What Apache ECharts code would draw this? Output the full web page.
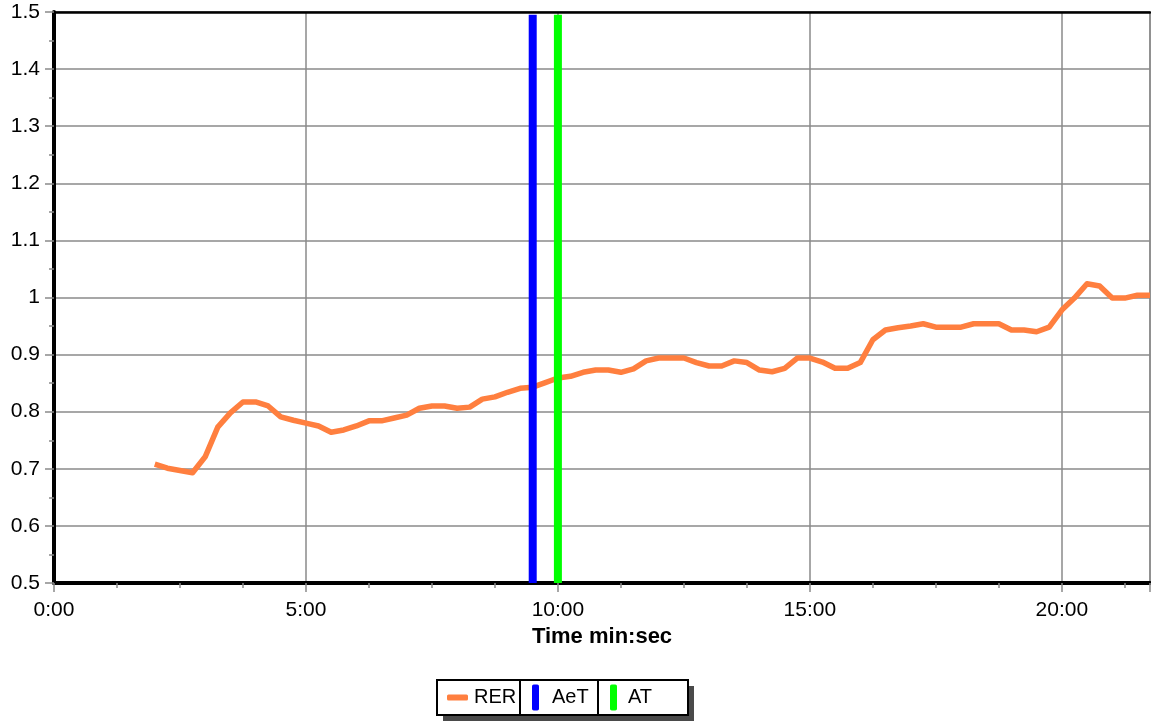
<!DOCTYPE html>
<html>
<head>
<meta charset="utf-8">
<script src="https://cdn.jsdelivr.net/npm/echarts@6/dist/echarts.min.js"></script>
<style>
  html, body { margin: 0; padding: 0; background: #ffffff; }
  #chart { width: 1151px; height: 723px; }
</style>
</head>
<body>
<div id="chart"></div>
<script>
// Respiratory exchange ratio sampled every 15 s (time as m:ss)
const times = [
  '2:00','2:15','2:30','2:45','3:00','3:15','3:30','3:45',
  '4:00','4:15','4:30','4:45','5:00','5:15','5:30','5:45',
  '6:00','6:15','6:30','6:45','7:00','7:15','7:30','7:45',
  '8:00','8:15','8:30','8:45','9:00','9:15','9:30','9:45',
  '10:00','10:15','10:30','10:45','11:00','11:15','11:30','11:45',
  '12:00','12:15','12:30','12:45','13:00','13:15','13:30','13:45',
  '14:00','14:15','14:30','14:45','15:00','15:15','15:30','15:45',
  '16:00','16:15','16:30','16:45','17:00','17:15','17:30','17:45',
  '18:00','18:15','18:30','18:45','19:00','19:15','19:30','19:45',
  '20:00','20:15','20:30','20:45','21:00','21:15','21:30','21:45'
];
const rer = [
  0.708, 0.701, 0.697, 0.693, 0.721, 0.773, 0.798, 0.817,
  0.817, 0.810, 0.791, 0.785, 0.780, 0.775, 0.764, 0.768,
  0.775, 0.784, 0.784, 0.789, 0.794, 0.806, 0.810, 0.810,
  0.806, 0.808, 0.822, 0.826, 0.834, 0.841, 0.843, 0.851,
  0.859, 0.862, 0.869, 0.873, 0.873, 0.869, 0.875, 0.889,
  0.894, 0.894, 0.894, 0.886, 0.880, 0.880, 0.889, 0.886,
  0.873, 0.870, 0.876, 0.894, 0.894, 0.887, 0.876, 0.876,
  0.886, 0.926, 0.943, 0.947, 0.950, 0.954, 0.948, 0.948,
  0.948, 0.954, 0.954, 0.954, 0.943, 0.943, 0.940, 0.948,
  0.978, 0.999, 1.024, 1.020, 0.999, 0.999, 1.004, 1.004
];

// Threshold markers
const aetTime = '9:30';
const atTime = '10:00';

// Axis ranges (time axis in minutes)
const xMin = 0, xMax = 21.75, xStep = 5;
const yMin = 0.5, yMax = 1.5, yStep = 0.1;
const markerTop = 1.495;

function toMinutes(s) {
  const [m, sec] = s.split(':').map(Number);
  return m + sec / 60;
}
function fmtTime(v) {
  const m = Math.floor(v + 1e-9);
  const s = Math.round((v - m) * 60);
  return m + ':' + String(s).padStart(2, '0');
}

const rerData = times.map((t, i) => [toMinutes(t), rer[i]]);
const aetData = [[toMinutes(aetTime), yMin], [toMinutes(aetTime), markerTop]];
const atData = [[toMinutes(atTime), yMin], [toMinutes(atTime), markerTop]];

const FONT = '"Liberation Sans", Arial, sans-serif';
const GRID_GRAY = '#8a8a8a';

const legendBase = {
  orient: 'horizontal',
  top: 684,
  padding: 0,
  itemGap: 0,
  selectedMode: false,
  z: 10,
  textStyle: { fontFamily: FONT, fontSize: 20, color: '#000000', lineHeight: 27 }
};

const chart = echarts.init(document.getElementById('chart'), null, { renderer: 'canvas' });

chart.setOption({
  animation: false,
  backgroundColor: '#ffffff',
  grid: {
    left: 54, right: 1, top: 12, bottom: 140,
    show: true, borderColor: GRID_GRAY, borderWidth: 1.5, backgroundColor: 'transparent'
  },
  // Legend frame: a boxed strip with a solid drop shadow, split into three cells
  graphic: [
    {
      type: 'rect', z: 1, silent: true,
      shape: { x: 443, y: 686, width: 251, height: 35 },
      style: { fill: '#4a4a4a' }
    },
    {
      type: 'rect', z: 2, silent: true,
      shape: { x: 437, y: 680, width: 251, height: 35 },
      style: { fill: '#ffffff', stroke: '#000000', lineWidth: 2 }
    },
    {
      type: 'line', z: 3, silent: true,
      shape: { x1: 520, y1: 680, x2: 520, y2: 715 },
      style: { stroke: '#000000', lineWidth: 2 }
    },
    {
      type: 'line', z: 3, silent: true,
      shape: { x1: 598, y1: 680, x2: 598, y2: 715 },
      style: { stroke: '#000000', lineWidth: 2 }
    }
  ],
  legend: [
    Object.assign({}, legendBase, {
      left: 447,
      data: [{ name: 'RER', icon: 'roundRect' }],
      itemWidth: 21, itemHeight: 6,
      textStyle: Object.assign({}, legendBase.textStyle, { padding: [0, 0, 0, 1] })
    }),
    Object.assign({}, legendBase, {
      left: 532,
      data: [{ name: 'AeT', icon: 'roundRect' }],
      itemWidth: 7, itemHeight: 26,
      textStyle: Object.assign({}, legendBase.textStyle, { padding: [0, 0, 0, 8] })
    }),
    Object.assign({}, legendBase, {
      left: 610,
      data: [{ name: 'AT', icon: 'roundRect' }],
      itemWidth: 7, itemHeight: 26,
      textStyle: Object.assign({}, legendBase.textStyle, { padding: [0, 0, 0, 6] })
    })
  ],
  xAxis: [
    {
      type: 'value',
      min: xMin, max: xMax, interval: xStep,
      name: 'Time min:sec',
      nameLocation: 'middle',
      nameGap: 43,
      nameTextStyle: { fontFamily: FONT, fontSize: 22, fontWeight: 'bold', color: '#000000' },
      axisLine: { show: true, onZero: false, lineStyle: { color: '#000000', width: 4 } },
      axisTick: { show: true, inside: false, length: 9, lineStyle: { color: GRID_GRAY, width: 1.5 } },
      minorTick: { show: true, splitNumber: 4, length: 5, lineStyle: { color: GRID_GRAY, width: 1.5 } },
      axisLabel: {
        fontFamily: FONT, fontSize: 21, color: '#000000', margin: 17,
        formatter: v => fmtTime(v),
        showMaxLabel: false
      },
      splitLine: { show: true, lineStyle: { color: GRID_GRAY, width: 1.5 } }
    },
    {
      type: 'value', position: 'top',
      min: xMin, max: xMax,
      axisLine: { show: true, onZero: false, lineStyle: { color: '#000000', width: 2.5 } },
      axisTick: { show: false }, axisLabel: { show: false }, splitLine: { show: false }
    }
  ],
  yAxis: {
    type: 'value',
    min: yMin, max: yMax, interval: yStep,
    axisLine: { show: true, onZero: false, lineStyle: { color: '#000000', width: 4 } },
    axisTick: { show: true, inside: false, length: 9, lineStyle: { color: GRID_GRAY, width: 1.5 } },
    minorTick: { show: true, splitNumber: 2, length: 5, lineStyle: { color: GRID_GRAY, width: 1.5 } },
    axisLabel: {
      fontFamily: FONT, fontSize: 21, color: '#000000', margin: 14,
      formatter: v => String(Math.round(v * 10) / 10)
    },
    splitLine: { show: true, lineStyle: { color: GRID_GRAY, width: 1.5 } }
  },
  series: [
    {
      name: 'RER', type: 'line', data: rerData,
      showSymbol: false, symbol: 'none',
      lineStyle: { color: '#ff7f3f', width: 5.5, join: 'round', cap: 'butt' },
      itemStyle: { color: '#ff7f3f' },
      z: 3
    },
    {
      name: 'AeT', type: 'line', data: aetData,
      showSymbol: false, symbol: 'none',
      lineStyle: { color: '#0000ff', width: 8 },
      itemStyle: { color: '#0000ff' },
      z: 4
    },
    {
      name: 'AT', type: 'line', data: atData,
      showSymbol: false, symbol: 'none',
      lineStyle: { color: '#00ff00', width: 8 },
      itemStyle: { color: '#00ff00' },
      z: 4
    }
  ]
});
</script>
</body>
</html>
